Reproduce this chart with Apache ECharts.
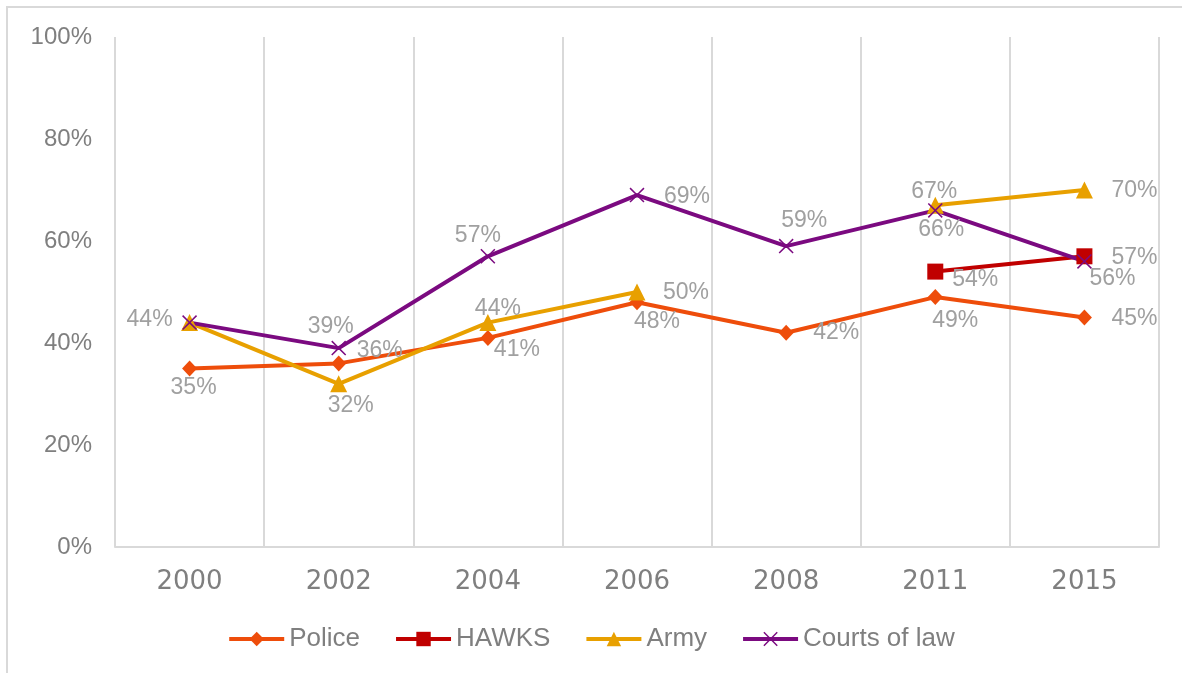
<!DOCTYPE html>
<html>
<head>
<meta charset="utf-8">
<title>Trust in institutions</title>
<script src="https://cdn.jsdelivr.net/npm/echarts@6/dist/echarts.min.js"></script>
<style>
  html, body { margin: 0; padding: 0; background: #fff; }
  #chart { width: 1182px; height: 673px; }
</style>
</head>
<body>
<div id="chart"></div>
<script>
const years = ['2000', '2002', '2004', '2006', '2008', '2011', '2015']
const police = [35, 36, 41, 48, 42, 49, 45]
const hawks = [null, null, null, null, null, 54, 57]
const army = [44, 32, 44, 50, null, 67, 70]
const courts = [44, 39, 57, 69, 59, 66, 56]
const yMin = 0
const yMax = 100
const yStep = 20

// label centre relative to the marker, null = no label
const policeLabels = [[4, 19], [41, -13], [29, 12], [20, 19], [50, 0], [20, 24], [50, 1]]
const hawksLabels = [null, null, null, null, null, [40, 8], [50, 1]]
const armyLabels = [[-40, -3], [12, 22], [10, -14], [49, 1], null, [-1, -14], [50, 1]]
const courtsLabels = [null, [-8, -21], [-10, -21], [50, 2], [18, -25], [6, 19], [28, 17]]

const font = '"Liberation Sans", Arial, sans-serif'
const crossPath = 'path://M0,1 L1,0 L7,6 L13,0 L14,1 L8,7 L14,13 L13,14 L7,8 L1,14 L0,13 L6,7 Z'

function withLabels(values, offsets) {
  return values.map((v, i) => {
    if (v == null) return null
    const off = offsets[i]
    return {
      value: v,
      label: off
        ? { show: true, position: 'inside', offset: off }
        : { show: false }
    }
  })
}

function lineSeries(name, values, offsets, color, symbol, size) {
  return {
    name,
    type: 'line',
    data: withLabels(values, offsets),
    symbol,
    symbolSize: size,
    showAllSymbol: true,
    connectNulls: false,
    lineStyle: { width: 4, color },
    itemStyle: { color },
    label: {
      show: true,
      formatter: '{c}%',
      color: '#a0a0a0',
      fontFamily: font,
      fontSize: 23,
      textBorderWidth: 0
    },
    emphasis: { disabled: true }
  }
}

const chart = echarts.init(document.getElementById('chart'))
chart.setOption({
  animation: false,
  backgroundColor: '#fff',
  graphic: [{
    type: 'rect',
    shape: { x: 7, y: 7, width: 1300, height: 800 },
    style: { fill: 'none', stroke: '#d9d9d9', lineWidth: 2 },
    silent: true
  }],
  grid: { left: 115, right: 23, top: 37, bottom: 126 },
  legend: {
    bottom: 16,
    left: 'center',
    itemWidth: 55,
    itemHeight: 18,
    itemGap: 34,
    lineStyle: { width: 4 },
    textStyle: { color: '#7f7f7f', fontFamily: font, fontSize: 26 },
    data: ['Police', 'HAWKS', 'Army', 'Courts of law']
  },
  xAxis: {
    type: 'category',
    data: years,
    boundaryGap: true,
    axisLine: { lineStyle: { color: '#d9d9d9', width: 2 } },
    axisTick: { show: false },
    axisLabel: {
      color: '#7f7f7f',
      fontFamily: '"DejaVu Sans", sans-serif',
      fontSize: 26,
      margin: 22
    },
    splitLine: { show: true, lineStyle: { color: '#d9d9d9', width: 2 } }
  },
  yAxis: {
    type: 'value',
    min: yMin,
    max: yMax,
    interval: yStep,
    axisLine: { show: false },
    axisTick: { show: false },
    splitLine: { show: false },
    axisLabel: {
      formatter: '{value}%',
      color: '#7f7f7f',
      fontFamily: font,
      fontSize: 24,
      margin: 23
    }
  },
  series: [
    lineSeries('Police', police, policeLabels, '#ee4d0b', 'diamond', [15, 16]),
    lineSeries('HAWKS', hawks, hawksLabels, '#c00000', 'rect', 16),
    lineSeries('Army', army, armyLabels, '#e8a000', 'triangle', 17),
    lineSeries('Courts of law', courts, courtsLabels, '#7b0a80', crossPath, 15)
  ]
})
</script>
</body>
</html>
